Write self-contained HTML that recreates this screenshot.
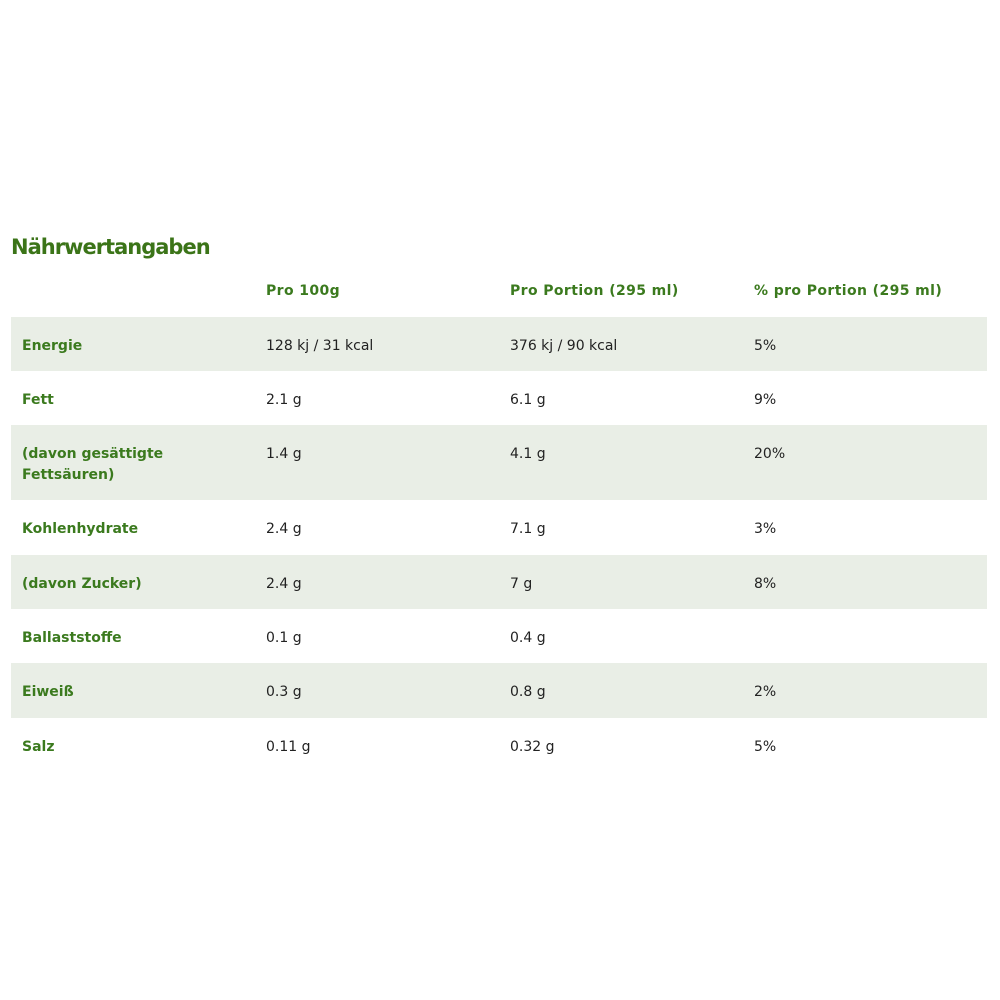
<!DOCTYPE html>
<html><head><style>
body{margin:0;background:#fff;width:1000px;height:1000px;position:relative;font-family:"DejaVu Sans","Liberation Sans",sans-serif;}
h1{position:absolute;left:11px;top:235px;margin:0;font-size:21px;font-weight:bold;color:#3b7418;letter-spacing:-1px;font-family:"DejaVu Sans",sans-serif}
.hd{position:absolute;top:283px;font-size:14px;color:#3b7a1e;font-weight:bold;letter-spacing:0.4px}
.row{position:absolute;left:11px;width:976px;}
.sh{background:#e9eee6;}
.c{position:absolute;top:19px;font-size:14px;color:#222;line-height:21px}
.l{left:11px;color:#3b7a1e;font-weight:bold;}
</style></head><body>
<h1>Nährwertangaben</h1>
<div class="hd" style="left:266px">Pro 100g</div>
<div class="hd" style="left:510px">Pro Portion (295 ml)</div>
<div class="hd" style="left:754px">% pro Portion (295 ml)</div>

<div class="row sh" style="top:317px;height:54px"><div class="c l">Energie</div><div class="c" style="left:255px">128 kj / 31 kcal</div><div class="c" style="left:499px">376 kj / 90 kcal</div><div class="c" style="left:743px">5%</div></div>
<div class="row" style="top:371px;height:54px"><div class="c l">Fett</div><div class="c" style="left:255px">2.1 g</div><div class="c" style="left:499px">6.1 g</div><div class="c" style="left:743px">9%</div></div>
<div class="row sh" style="top:425px;height:75px"><div class="c l">(davon gesättigte<br>Fettsäuren)</div><div class="c" style="left:255px">1.4 g</div><div class="c" style="left:499px">4.1 g</div><div class="c" style="left:743px">20%</div></div>
<div class="row" style="top:500px;height:55px"><div class="c l">Kohlenhydrate</div><div class="c" style="left:255px">2.4 g</div><div class="c" style="left:499px">7.1 g</div><div class="c" style="left:743px">3%</div></div>
<div class="row sh" style="top:555px;height:54px"><div class="c l">(davon Zucker)</div><div class="c" style="left:255px">2.4 g</div><div class="c" style="left:499px">7 g</div><div class="c" style="left:743px">8%</div></div>
<div class="row" style="top:609px;height:54px"><div class="c l">Ballaststoffe</div><div class="c" style="left:255px">0.1 g</div><div class="c" style="left:499px">0.4 g</div></div>
<div class="row sh" style="top:663px;height:55px"><div class="c l">Eiweiß</div><div class="c" style="left:255px">0.3 g</div><div class="c" style="left:499px">0.8 g</div><div class="c" style="left:743px">2%</div></div>
<div class="row" style="top:718px;height:54px"><div class="c l">Salz</div><div class="c" style="left:255px">0.11 g</div><div class="c" style="left:499px">0.32 g</div><div class="c" style="left:743px">5%</div></div>
</body></html>
